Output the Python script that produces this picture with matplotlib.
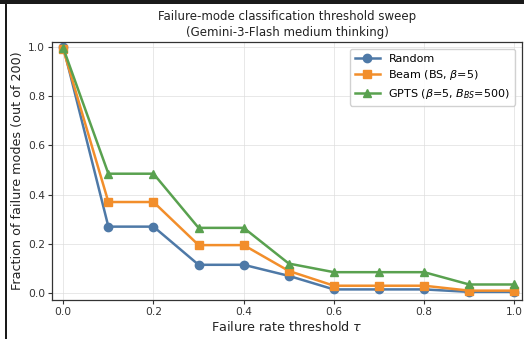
import matplotlib
matplotlib.use("Agg")
import matplotlib.pyplot as plt
from matplotlib.patches import Rectangle

tau = [0.0, 0.1, 0.2, 0.3, 0.4, 0.5, 0.6, 0.7, 0.8, 0.9, 1.0]
random_vals = [1.0, 0.27, 0.27, 0.115, 0.115, 0.07, 0.015, 0.015, 0.015, 0.005, 0.005]
beam_vals = [0.99, 0.37, 0.37, 0.195, 0.195, 0.09, 0.03, 0.03, 0.03, 0.01, 0.01]
gpts_vals = [0.995, 0.485, 0.485, 0.265, 0.265, 0.12, 0.085, 0.085, 0.085, 0.035, 0.035]

labels = ["Random", r"Beam (BS, $\beta$=5)", r"GPTS ($\beta$=5, $B_{BS}$=500)"]
colors = ["#4E79A7", "#F28E2B", "#59A14F"]
markers = ["o", "s", "^"]

W, H = 524, 339
fig = plt.figure(figsize=(W / 100, H / 100), dpi=100)
ax = fig.add_axes([52 / W, 1 - 300 / H, (522 - 52) / W, (300 - 42) / H])

for vals, lab, c, m in zip([random_vals, beam_vals, gpts_vals], labels, colors, markers):
    ax.plot(tau, vals, marker=m, color=c, label=lab, linewidth=1.8, markersize=6)

ax.set_xlim(-0.025, 1.017)
ax.set_ylim(-0.028, 1.02)
ax.set_xticks([0.0, 0.2, 0.4, 0.6, 0.8, 1.0])
ax.set_yticks([0.0, 0.2, 0.4, 0.6, 0.8, 1.0])
ax.tick_params(labelsize=7.7, length=3, pad=2, colors="#333333")
ax.grid(True, color="#dddddd", linewidth=0.6, alpha=0.8)
for s in ax.spines.values():
    s.set_color("#333333")
    s.set_linewidth(0.9)

ax.set_xlabel(r"Failure rate threshold $\tau$", fontsize=9.2, color="#222222", labelpad=2)
ax.set_ylabel("Fraction of failure modes (out of 200)", fontsize=9.2, color="#222222", labelpad=3)
ax.set_title("Failure-mode classification threshold sweep\n(Gemini-3-Flash medium thinking)",
             fontsize=8.5, color="#222222", pad=4, linespacing=1.3)
ax.legend(loc="upper right", fontsize=8.0, framealpha=0.9, edgecolor="#cccccc",
          borderpad=0.45, labelspacing=0.4, handlelength=2.2, borderaxespad=0.6)

fig.add_artist(Rectangle((0, 1 - 4 / H), 1, 4 / H, transform=fig.transFigure,
                         color="#1a1a1a", lw=0))
fig.add_artist(Rectangle((4.5 / W, 0), 2 / W, 1, transform=fig.transFigure,
                         color="#1a1a1a", lw=0))

fig.savefig("out.png", dpi=100)
